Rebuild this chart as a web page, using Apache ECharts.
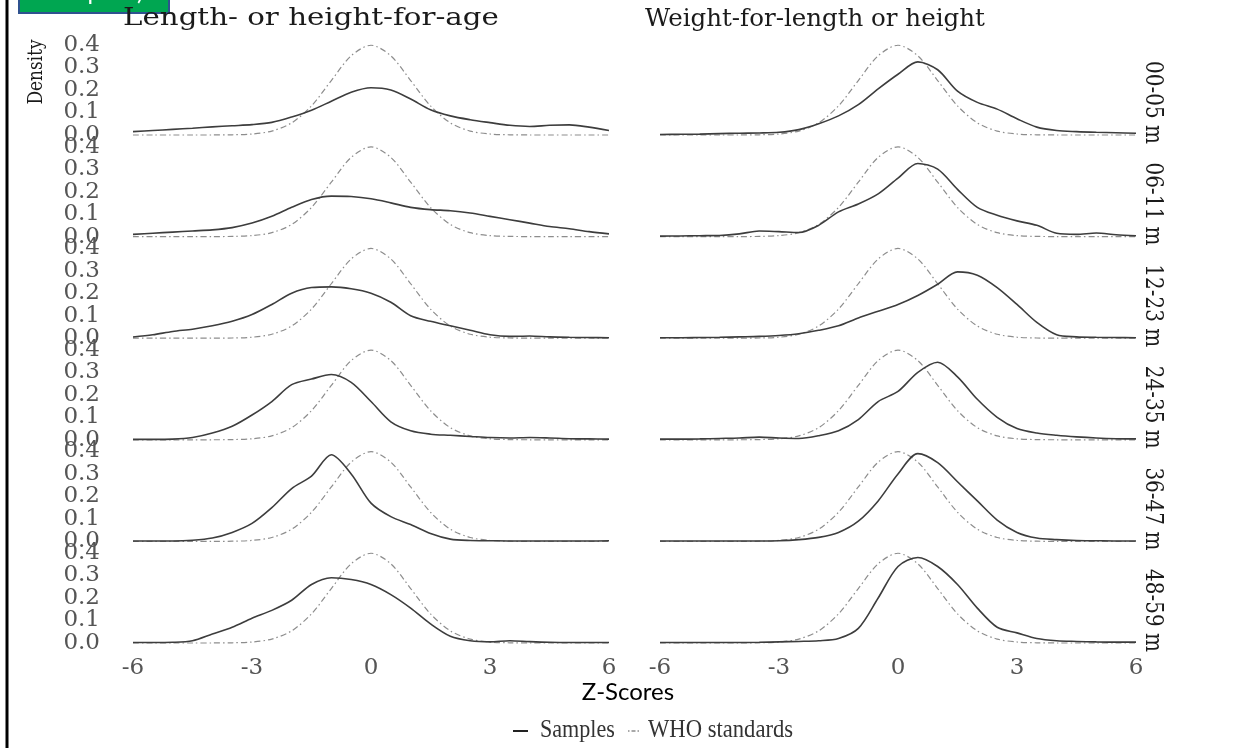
<!DOCTYPE html>
<html>
<head>
<meta charset="utf-8">
<title>Z-score densities by age group</title>
<script src="https://cdn.jsdelivr.net/npm/echarts@6/dist/echarts.min.js"></script>
<style>
  html, body { margin: 0; padding: 0; background: #ffffff; }
  #chart { width: 1251px; height: 748px; }
</style>
</head>
<body>
<div id="chart"></div>
<script>
// Z-score grid shared by every density curve
const zGrid = [-6, -5.5, -5, -4.5, -4, -3.5, -3, -2.5, -2, -1.5, -1, -0.5, 0,
               0.5, 1, 1.5, 2, 2.5, 3, 3.5, 4, 4.5, 5, 5.5, 6];

const panelTitles = ['Length- or height-for-age', 'Weight-for-length or height'];
const ageGroups = ['00-05 m', '06-11 m', '12-23 m', '24-35 m', '36-47 m', '48-59 m'];
const xTicks = [-6, -3, 0, 3, 6];
const yTicks = [0, 0.1, 0.2, 0.3, 0.4];

// WHO reference density
const whoStandard = [0, 0, 0, 0, 0.0001, 0.0009, 0.0044, 0.0175, 0.054, 0.1295, 0.242, 0.3521, 0.3989,
                     0.3521, 0.242, 0.1295, 0.054, 0.0175, 0.0044, 0.0009, 0.0001, 0, 0, 0, 0];

// Sample densities, length- or height-for-age
const hfa0005 = [0.015, 0.02, 0.025, 0.03, 0.036, 0.041, 0.046, 0.056, 0.08, 0.11, 0.15, 0.19, 0.21,
                 0.2, 0.16, 0.112, 0.085, 0.068, 0.055, 0.043, 0.038, 0.043, 0.045, 0.035, 0.02];
const hfa0611 = [0.01, 0.015, 0.02, 0.025, 0.03, 0.04, 0.06, 0.09, 0.13, 0.165, 0.18, 0.178, 0.168,
                 0.15, 0.13, 0.12, 0.115, 0.105, 0.09, 0.075, 0.06, 0.045, 0.035, 0.022, 0.012];
const hfa1223 = [0.005, 0.015, 0.03, 0.04, 0.055, 0.075, 0.105, 0.15, 0.2, 0.225, 0.228, 0.22, 0.2,
                 0.16, 0.1, 0.075, 0.055, 0.035, 0.015, 0.008, 0.01, 0.006, 0.004, 0.003, 0.002];
const hfa2435 = [0.002, 0.002, 0.003, 0.01, 0.03, 0.06, 0.11, 0.17, 0.245, 0.27, 0.29, 0.255, 0.17,
                 0.08, 0.04, 0.025, 0.02, 0.015, 0.01, 0.008, 0.01, 0.008, 0.005, 0.004, 0.003];
const hfa3647 = [0.002, 0.002, 0.002, 0.005, 0.015, 0.04, 0.08, 0.15, 0.235, 0.29, 0.385, 0.3, 0.17,
                 0.11, 0.075, 0.035, 0.01, 0.004, 0.003, 0.002, 0.002, 0.002, 0.002, 0.002, 0.003];
const hfa4859 = [0.002, 0.002, 0.003, 0.01, 0.04, 0.07, 0.11, 0.145, 0.19, 0.26, 0.29, 0.282, 0.26,
                 0.215, 0.155, 0.085, 0.03, 0.01, 0.005, 0.01, 0.006, 0.003, 0.002, 0.002, 0.002];

// Sample densities, weight-for-length or height
const wfh0005 = [0.002, 0.003, 0.004, 0.006, 0.008, 0.009, 0.012, 0.024, 0.05, 0.085, 0.135, 0.205, 0.27,
                 0.325, 0.29, 0.195, 0.145, 0.115, 0.072, 0.035, 0.02, 0.015, 0.012, 0.01, 0.008];
const wfh0611 = [0.002, 0.003, 0.004, 0.005, 0.012, 0.025, 0.022, 0.018, 0.05, 0.11, 0.145, 0.19, 0.26,
                 0.325, 0.3, 0.21, 0.13, 0.095, 0.07, 0.05, 0.015, 0.01, 0.016, 0.008, 0.004];
const wfh1223 = [0.002, 0.002, 0.003, 0.004, 0.006, 0.008, 0.012, 0.02, 0.035, 0.055, 0.09, 0.12, 0.15,
                 0.19, 0.24, 0.295, 0.28, 0.225, 0.15, 0.07, 0.015, 0.006, 0.004, 0.003, 0.002];
const wfh2435 = [0.003, 0.003, 0.004, 0.006, 0.008, 0.012, 0.008, 0.006, 0.018, 0.04, 0.09, 0.17, 0.215,
                 0.3, 0.345, 0.28, 0.18, 0.1, 0.05, 0.03, 0.02, 0.013, 0.008, 0.005, 0.004];
const wfh3647 = [0.002, 0.002, 0.002, 0.002, 0.002, 0.002, 0.003, 0.008, 0.018, 0.04, 0.09, 0.18, 0.3,
                 0.39, 0.35, 0.265, 0.18, 0.095, 0.04, 0.015, 0.008, 0.004, 0.003, 0.002, 0.002];
const wfh4859 = [0.002, 0.002, 0.002, 0.002, 0.002, 0.003, 0.005, 0.007, 0.01, 0.02, 0.065, 0.2, 0.34,
                 0.38, 0.34, 0.26, 0.155, 0.07, 0.045, 0.02, 0.01, 0.007, 0.005, 0.004, 0.004];

const sampleColumns = [
  [hfa0005, hfa0611, hfa1223, hfa2435, hfa3647, hfa4859],
  [wfh0005, wfh0611, wfh1223, wfh2435, wfh3647, wfh4859]
];

// ---- layout ----
const colLeft = [133, 660];
const panelWidth = 476;
const firstBaseline = 135;
const rowStep = 101.6;
const panelHeight = 90;           // pixels for 0.0 .. 0.4
const serif = 'DejaVu Serif';
const tickStyle = { fontFamily: serif, fontSize: 23, color: '#555555' };

// the densely packed density labels are split over two stacked axes so
// neither one has neighbouring labels that collide
const evenTicks = yTicks.filter((_, i) => i % 2 === 0);
const oddTicks = yTicks.filter((_, i) => i % 2 === 1);

function densityAxis(g, labelValues, showLabels) {
  return {
    gridIndex: g, type: 'value', position: 'left',
    min: yTicks[0], max: yTicks[yTicks.length - 1], interval: yTicks[1] - yTicks[0],
    axisLine: { show: false }, axisTick: { show: false }, splitLine: { show: false },
    axisLabel: Object.assign({
      show: showLabels, margin: 33, formatter: v => v.toFixed(1),
      customValues: labelValues, interval: 0,
      showMinLabel: true, showMaxLabel: true, hideOverlap: false
    }, tickStyle)
  };
}

const grids = [], xAxes = [], yAxes = [], series = [];
for (let c = 0; c < 2; c++) {
  for (let r = 0; r < ageGroups.length; r++) {
    const g = grids.length;
    const base = firstBaseline + r * rowStep;
    grids.push({ left: colLeft[c], width: panelWidth, top: base - panelHeight, height: panelHeight });
    xAxes.push({
      gridIndex: g, type: 'value', min: xTicks[0], max: xTicks[xTicks.length - 1],
      interval: xTicks[1] - xTicks[0],
      axisLine: { show: false }, axisTick: { show: false }, splitLine: { show: false },
      axisLabel: Object.assign({
        show: r === ageGroups.length - 1, margin: 14, customValues: xTicks,
        showMinLabel: true, showMaxLabel: true, hideOverlap: false
      }, tickStyle)
    });
    const yIndex = yAxes.length;
    yAxes.push(densityAxis(g, evenTicks, c === 0));
    if (c === 0) yAxes.push(densityAxis(g, oddTicks, true));

    series.push({
      name: 'WHO standards', type: 'line', xAxisIndex: g, yAxisIndex: yIndex,
      data: zGrid.map((z, k) => [z, whoStandard[k]]),
      showSymbol: false, smooth: 0.3, clip: false, silent: true,
      lineStyle: { color: '#8d8d8d', width: 1.2, type: [6, 3, 1.5, 3] }
    });
    series.push({
      name: 'Samples', type: 'line', xAxisIndex: g, yAxisIndex: yIndex,
      data: zGrid.map((z, k) => [z, sampleColumns[c][r][k]]),
      showSymbol: false, smooth: 0.3, clip: false, silent: true,
      lineStyle: { color: '#3d3d3d', width: 1.6 }
    });
  }
}

// ---- annotations: frame, tag, panel titles, strips, axis titles, legend ----
const graphics = [
  { type: 'rect', shape: { x: 5.5, y: 0, width: 3, height: 748 }, style: { fill: '#000' } },
  { type: 'rect', shape: { x: 19, y: -4, width: 150, height: 17 },
    style: { fill: '#00a651', stroke: '#2f528f', lineWidth: 2 } },
  { type: 'text', x: 30, y: -8,
    style: { text: 'Example a)', font: '24px Lato', fill: '#ffffff', verticalAlign: 'middle' } },
  { type: 'text', x: 123, y: 19, scaleX: 1.22,
    style: { text: panelTitles[0], font: '24px "' + serif + '"', fill: '#1a1a1a', verticalAlign: 'middle' } },
  { type: 'text', x: 645, y: 19, scaleX: 0.98,
    style: { text: panelTitles[1], font: '25px "' + serif + '"', fill: '#1a1a1a', verticalAlign: 'middle' } },
  { type: 'text', x: 36, y: 72, rotation: Math.PI / 2, scaleY: 1.25,
    style: { text: 'Density', font: '17px "' + serif + '"', fill: '#1a1a1a', align: 'center', verticalAlign: 'middle' } },
  { type: 'text', x: 628, y: 692,
    style: { text: 'Z-Scores', font: '24px Lato', fill: '#000', align: 'center', verticalAlign: 'middle' } },
  { type: 'line', shape: { x1: 513, y1: 731, x2: 528, y2: 731 }, style: { stroke: '#222', lineWidth: 2 } },
  { type: 'text', x: 540, y: 730, scaleX: 0.85,
    style: { text: 'Samples', font: '26px "Liberation Serif"', fill: '#333', verticalAlign: 'middle' } },
  { type: 'line', shape: { x1: 628, y1: 731, x2: 641, y2: 731 },
    style: { stroke: '#555', lineWidth: 1.2, lineDash: [1.5, 2, 4, 2] } },
  { type: 'text', x: 648, y: 730, scaleX: 0.87,
    style: { text: 'WHO standards', font: '26px "Liberation Serif"', fill: '#333', verticalAlign: 'middle' } }
];
ageGroups.forEach((label, r) => {
  graphics.push({
    type: 'text', x: 1153, y: firstBaseline + r * rowStep - 74, rotation: -Math.PI / 2, scaleY: 1.25,
    style: { text: label, font: '20px "' + serif + '"', fill: '#1a1a1a', align: 'left', verticalAlign: 'middle' }
  });
});

const chart = echarts.init(document.getElementById('chart'), null, { renderer: 'canvas' });
chart.setOption({
  animation: false,
  backgroundColor: '#ffffff',
  grid: grids,
  xAxis: xAxes,
  yAxis: yAxes,
  series: series,
  graphic: graphics
});
</script>
</body>
</html>
